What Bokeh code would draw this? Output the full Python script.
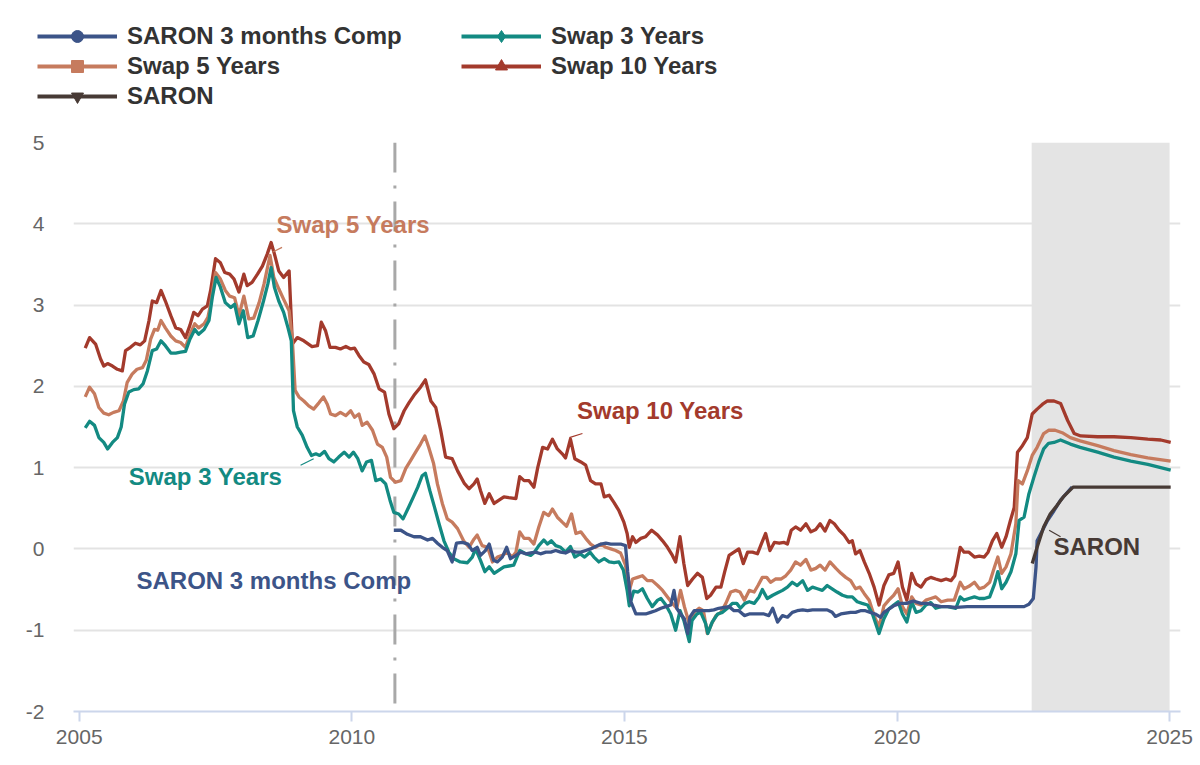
from bokeh.plotting import figure
from bokeh.models import Range1d, FixedTicker, Legend, LegendItem, ColumnDataSource
from bokeh.core.properties import value
from bokeh.embed import file_html
from bokeh.resources import INLINE

# ---------------- data (decimal years, percent) ----------------
swap10_t = [2005.11, 2005.19, 2005.30, 2005.39, 2005.45, 2005.52, 2005.61, 2005.70, 2005.79, 2005.85, 2005.94,
            2006.03, 2006.12, 2006.20, 2006.28, 2006.34, 2006.42, 2006.50, 2006.58, 2006.68, 2006.77, 2006.86, 2006.95,
            2007.03, 2007.10, 2007.18, 2007.26, 2007.35, 2007.41, 2007.50, 2007.59, 2007.67, 2007.76, 2007.84, 2007.93,
            2008.02, 2008.08, 2008.17, 2008.27, 2008.36, 2008.45, 2008.52, 2008.58, 2008.66, 2008.75, 2008.85, 2008.91,
            2009.00, 2009.12, 2009.27, 2009.37, 2009.44, 2009.52, 2009.60, 2009.70, 2009.79, 2009.89, 2009.98,
            2010.05, 2010.13, 2010.22, 2010.31, 2010.41, 2010.50, 2010.60, 2010.68, 2010.77, 2010.86, 2010.96,
            2011.05, 2011.14, 2011.26, 2011.35, 2011.45, 2011.54, 2011.63, 2011.72, 2011.84, 2011.94,
            2012.06, 2012.15, 2012.24, 2012.30, 2012.36, 2012.44, 2012.52, 2012.61, 2012.70, 2012.79, 2012.88,
            2013.01, 2013.08, 2013.16, 2013.25, 2013.34, 2013.41, 2013.50, 2013.59, 2013.68, 2013.77, 2013.86, 2013.92,
            2014.01, 2014.09, 2014.20, 2014.29, 2014.38, 2014.47, 2014.57, 2014.63, 2014.72, 2014.81, 2014.90, 2014.99,
            2015.05, 2015.09, 2015.15, 2015.21, 2015.30, 2015.39, 2015.50, 2015.61, 2015.70, 2015.79, 2015.88, 2015.94,
            2016.02, 2016.09, 2016.16, 2016.25, 2016.34, 2016.43, 2016.51, 2016.58, 2016.68, 2016.77, 2016.84, 2016.92,
            2017.01, 2017.10, 2017.18, 2017.26, 2017.35, 2017.44, 2017.51, 2017.59, 2017.67, 2017.75, 2017.84, 2017.93,
            2017.99, 2018.06, 2018.14, 2018.23, 2018.33, 2018.42, 2018.51, 2018.59, 2018.68, 2018.77, 2018.85, 2018.94,
            2019.03, 2019.12, 2019.18, 2019.24, 2019.32, 2019.40, 2019.49, 2019.58, 2019.67, 2019.76, 2019.85, 2019.94,
            2020.02, 2020.10, 2020.18, 2020.27, 2020.35, 2020.44, 2020.53, 2020.62, 2020.71, 2020.81, 2020.90, 2020.99,
            2021.06, 2021.16, 2021.23, 2021.32, 2021.42, 2021.51, 2021.60, 2021.67, 2021.75, 2021.83, 2021.92,
            2022.00, 2022.08, 2022.15, 2022.21, 2022.30, 2022.39, 2022.48, 2022.57, 2022.67, 2022.76, 2022.88,
            2023.00, 2023.13, 2023.25, 2023.37, 2023.68, 2023.98, 2024.29, 2024.60, 2024.84, 2025.02]
swap10_v = [2.47, 2.60, 2.52, 2.34, 2.25, 2.28, 2.25, 2.21, 2.19, 2.44, 2.48,
            2.53, 2.51, 2.56, 2.81, 3.05, 3.03, 3.18, 3.05, 2.87, 2.72, 2.70, 2.60,
            2.75, 2.91, 2.87, 2.95, 2.99, 3.18, 3.57, 3.52, 3.40, 3.38, 3.32, 3.16,
            3.38, 3.24, 3.28, 3.38, 3.48, 3.63, 3.77, 3.63, 3.42, 3.34, 3.42, 2.52,
            2.60, 2.56, 2.49, 2.50, 2.79, 2.68, 2.48, 2.48, 2.46, 2.49, 2.46,
            2.47, 2.38, 2.30, 2.27, 2.15, 1.97, 1.93, 1.66, 1.48, 1.54, 1.70,
            1.80, 1.89, 1.99, 2.08, 1.82, 1.74, 1.46, 1.13, 1.11, 0.96,
            0.81, 0.74, 0.80, 0.86, 0.72, 0.56, 0.68, 0.56, 0.60, 0.64, 0.63,
            0.62, 0.89, 0.84, 0.84, 0.76, 1.00, 1.25, 1.23, 1.35, 1.23, 1.17, 1.12,
            1.35, 1.11, 1.07, 1.03, 0.84, 0.80, 0.80, 0.64, 0.66, 0.57, 0.47, 0.33,
            0.19, 0.02, 0.15, 0.08, 0.13, 0.15, 0.23, 0.17, 0.10, 0.02, -0.08, -0.16,
            0.15, -0.18, -0.45, -0.37, -0.30, -0.35, -0.61, -0.57, -0.47, -0.47, -0.28, -0.08,
            -0.04, 0.00, -0.18, -0.04, -0.04, -0.06, 0.06, 0.19, -0.02, 0.08, 0.07, 0.08,
            0.06, 0.23, 0.27, 0.23, 0.31, 0.21, 0.24, 0.31, 0.22, 0.35, 0.31, 0.23,
            0.17, 0.08, 0.10, -0.06, -0.02, -0.16, -0.30, -0.47, -0.69, -0.45, -0.32, -0.30,
            -0.16, -0.47, -0.63, -0.30, -0.43, -0.47, -0.38, -0.35, -0.37, -0.39, -0.37, -0.39,
            -0.33, 0.02, -0.04, -0.04, -0.10, -0.09, -0.10, -0.04, 0.10, 0.19, 0.02,
            0.15, 0.35, 0.51, 1.19, 1.27, 1.37, 1.66, 1.72, 1.78, 1.82, 1.82,
            1.79, 1.58, 1.42, 1.39, 1.38, 1.38, 1.37, 1.35, 1.34, 1.31]

swap5_t = [2005.11, 2005.19, 2005.28, 2005.36, 2005.45, 2005.54, 2005.63, 2005.73, 2005.81, 2005.88, 2005.97,
           2006.06, 2006.16, 2006.23, 2006.31, 2006.38, 2006.44, 2006.50, 2006.58, 2006.68, 2006.77, 2006.86, 2006.95,
           2007.03, 2007.12, 2007.19, 2007.29, 2007.36, 2007.41, 2007.50, 2007.59, 2007.68, 2007.76, 2007.85, 2007.93,
           2008.02, 2008.11, 2008.20, 2008.30, 2008.39, 2008.50, 2008.57, 2008.66, 2008.75, 2008.85, 2008.91, 2008.96,
           2009.03, 2009.12, 2009.21, 2009.30, 2009.40, 2009.48, 2009.55, 2009.61, 2009.70, 2009.79, 2009.89, 2009.98,
           2010.05, 2010.13, 2010.19, 2010.28, 2010.38, 2010.47, 2010.56, 2010.64, 2010.71, 2010.80, 2010.90, 2010.99,
           2011.08, 2011.17, 2011.26, 2011.34, 2011.41, 2011.50, 2011.57, 2011.66, 2011.75, 2011.84, 2011.94,
           2012.05, 2012.15, 2012.24, 2012.30, 2012.39, 2012.49, 2012.58, 2012.67, 2012.76, 2012.85, 2012.94,
           2013.01, 2013.08, 2013.16, 2013.25, 2013.34, 2013.43, 2013.52, 2013.61, 2013.68, 2013.77, 2013.86, 2013.94,
           2014.03, 2014.11, 2014.20, 2014.29, 2014.38, 2014.47, 2014.57, 2014.66, 2014.75, 2014.84, 2014.93,
           2015.02, 2015.09, 2015.15, 2015.24, 2015.33, 2015.42, 2015.51, 2015.61, 2015.70, 2015.79, 2015.88, 2015.96,
           2016.03, 2016.10, 2016.19, 2016.28, 2016.37, 2016.45, 2016.52, 2016.60, 2016.68, 2016.77, 2016.86, 2016.95,
           2017.04, 2017.12, 2017.20, 2017.29, 2017.38, 2017.45, 2017.53, 2017.61, 2017.68, 2017.77, 2017.87, 2017.96,
           2018.05, 2018.14, 2018.23, 2018.33, 2018.42, 2018.51, 2018.59, 2018.68, 2018.77, 2018.88, 2018.97,
           2019.06, 2019.15, 2019.24, 2019.32, 2019.40, 2019.49, 2019.58, 2019.67, 2019.76, 2019.85, 2019.94,
           2020.02, 2020.10, 2020.18, 2020.27, 2020.35, 2020.44, 2020.53, 2020.62, 2020.71, 2020.81, 2020.93,
           2021.05, 2021.16, 2021.23, 2021.32, 2021.42, 2021.51, 2021.60, 2021.70, 2021.79, 2021.85, 2021.92,
           2022.00, 2022.09, 2022.18, 2022.22, 2022.30, 2022.39, 2022.48, 2022.57, 2022.69, 2022.78, 2022.90,
           2023.03, 2023.18, 2023.36, 2023.68, 2023.98, 2024.29, 2024.60, 2025.02]
swap5_v = [1.87, 1.99, 1.91, 1.74, 1.67, 1.65, 1.68, 1.70, 1.82, 2.05, 2.15,
           2.21, 2.23, 2.32, 2.58, 2.70, 2.69, 2.81, 2.72, 2.62, 2.56, 2.54, 2.48,
           2.64, 2.77, 2.72, 2.77, 2.85, 3.01, 3.40, 3.32, 3.18, 3.11, 3.09, 2.87,
           3.11, 2.83, 2.84, 3.03, 3.26, 3.61, 3.34, 3.20, 3.07, 2.93, 2.56, 1.95,
           1.87, 1.82, 1.76, 1.72, 1.80, 1.87, 1.78, 1.66, 1.64, 1.68, 1.64, 1.70,
           1.62, 1.66, 1.52, 1.56, 1.46, 1.29, 1.25, 1.13, 0.88, 0.82, 0.84, 0.99,
           1.09, 1.19, 1.29, 1.39, 1.25, 1.05, 0.80, 0.56, 0.37, 0.33, 0.25,
           0.10, 0.02, 0.12, 0.17, 0.04, 0.02, -0.16, -0.10, -0.08, -0.04, -0.10,
           -0.04, 0.21, 0.13, 0.13, 0.06, 0.27, 0.45, 0.41, 0.49, 0.39, 0.33, 0.28,
           0.43, 0.19, 0.21, 0.13, 0.06, 0.02, 0.06, 0.02, 0.00, -0.02, -0.05,
           -0.20, -0.51, -0.37, -0.35, -0.33, -0.39, -0.39, -0.45, -0.51, -0.59, -0.67, -0.73,
           -0.51, -0.71, -0.92, -0.78, -0.73, -0.76, -1.04, -0.92, -0.82, -0.78, -0.67, -0.53,
           -0.51, -0.53, -0.63, -0.51, -0.53, -0.45, -0.35, -0.35, -0.41, -0.37, -0.37, -0.33,
           -0.26, -0.16, -0.20, -0.13, -0.26, -0.24, -0.20, -0.26, -0.16, -0.24, -0.30,
           -0.35, -0.39, -0.49, -0.47, -0.55, -0.63, -0.82, -0.96, -0.70, -0.63, -0.57,
           -0.49, -0.71, -0.80, -0.59, -0.67, -0.69, -0.63, -0.61, -0.59, -0.65, -0.63,
           -0.63, -0.41, -0.49, -0.46, -0.41, -0.49, -0.47, -0.41, -0.22, -0.10, -0.30,
           -0.22, -0.06, 0.31, 0.84, 0.80, 0.96, 1.15, 1.25, 1.42, 1.46, 1.46,
           1.43, 1.37, 1.33, 1.27, 1.21, 1.16, 1.12, 1.08]

swap3_t = [2005.11, 2005.19, 2005.28, 2005.36, 2005.45, 2005.52, 2005.61, 2005.70, 2005.77, 2005.83, 2005.91,
           2006.00, 2006.09, 2006.17, 2006.25, 2006.34, 2006.42, 2006.50, 2006.58, 2006.68, 2006.77, 2006.86, 2006.95,
           2007.03, 2007.12, 2007.19, 2007.29, 2007.38, 2007.44, 2007.51, 2007.59, 2007.68, 2007.78, 2007.85, 2007.93,
           2008.01, 2008.09, 2008.19, 2008.28, 2008.38, 2008.46, 2008.52, 2008.58, 2008.66, 2008.75, 2008.83, 2008.89,
           2008.93, 2009.00, 2009.09, 2009.18, 2009.26, 2009.34, 2009.41, 2009.50, 2009.58, 2009.67, 2009.76, 2009.86,
           2009.95, 2010.03, 2010.11, 2010.19, 2010.27, 2010.36, 2010.44, 2010.53, 2010.62, 2010.70, 2010.77, 2010.86,
           2010.94, 2011.04, 2011.13, 2011.21, 2011.29, 2011.35, 2011.43, 2011.51, 2011.60, 2011.69, 2011.78, 2011.87,
           2011.99, 2012.12, 2012.21, 2012.27, 2012.36, 2012.44, 2012.52, 2012.61, 2012.70, 2012.79, 2012.88, 2012.97,
           2013.08, 2013.19, 2013.28, 2013.35, 2013.43, 2013.52, 2013.59, 2013.66, 2013.74, 2013.83, 2013.92,
           2014.01, 2014.09, 2014.19, 2014.27, 2014.37, 2014.44, 2014.53, 2014.63, 2014.72, 2014.81, 2014.90, 2014.98,
           2015.05, 2015.09, 2015.17, 2015.25, 2015.33, 2015.42, 2015.51, 2015.61, 2015.67, 2015.76, 2015.85, 2015.94,
           2016.02, 2016.09, 2016.19, 2016.24, 2016.33, 2016.40, 2016.49, 2016.53, 2016.61, 2016.71, 2016.80, 2016.89,
           2016.98, 2017.06, 2017.13, 2017.21, 2017.29, 2017.38, 2017.47, 2017.53, 2017.62, 2017.72, 2017.81, 2017.90,
           2017.99, 2018.08, 2018.17, 2018.27, 2018.36, 2018.45, 2018.54, 2018.63, 2018.72, 2018.81, 2018.90,
           2019.00, 2019.09, 2019.18, 2019.27, 2019.36, 2019.46, 2019.55, 2019.67, 2019.76, 2019.85, 2019.94,
           2020.02, 2020.10, 2020.18, 2020.27, 2020.35, 2020.44, 2020.53, 2020.62, 2020.71, 2020.81, 2020.93,
           2021.08, 2021.16, 2021.23, 2021.32, 2021.42, 2021.51, 2021.60, 2021.70, 2021.79, 2021.85, 2021.92,
           2022.00, 2022.09, 2022.18, 2022.24, 2022.33, 2022.42, 2022.51, 2022.60, 2022.69, 2022.78, 2022.88,
           2023.00, 2023.18, 2023.36, 2023.68, 2023.98, 2024.29, 2024.60, 2025.02]
swap3_v = [1.49, 1.57, 1.52, 1.37, 1.31, 1.23, 1.31, 1.37, 1.50, 1.78, 1.93,
           1.96, 1.97, 2.03, 2.19, 2.44, 2.46, 2.56, 2.50, 2.41, 2.41, 2.42, 2.43,
           2.58, 2.70, 2.64, 2.70, 2.81, 3.09, 3.34, 3.22, 3.03, 2.97, 3.01, 2.77,
           2.93, 2.60, 2.62, 2.81, 3.05, 3.26, 3.46, 3.22, 3.05, 2.91, 2.72, 2.56,
           1.70, 1.50, 1.40, 1.25, 1.15, 1.17, 1.15, 1.20, 1.11, 1.07, 1.13, 1.19,
           1.13, 1.19, 1.11, 0.96, 1.07, 1.09, 0.84, 0.86, 0.80, 0.60, 0.45, 0.43,
           0.37, 0.51, 0.64, 0.76, 0.90, 0.93, 0.72, 0.53, 0.31, 0.10, -0.04, -0.12,
           -0.16, -0.17, -0.10, 0.00, -0.14, -0.28, -0.22, -0.30, -0.26, -0.22, -0.21, -0.20,
           -0.02, -0.06, -0.08, -0.04, 0.04, 0.11, 0.06, 0.10, 0.04, 0.02, -0.04,
           0.03, -0.10, -0.06, -0.10, -0.04, -0.10, -0.16, -0.12, -0.16, -0.17, -0.16, -0.26,
           -0.51, -0.70, -0.52, -0.53, -0.49, -0.61, -0.71, -0.63, -0.61, -0.69, -0.80, -1.00,
           -0.76, -0.88, -1.14, -0.88, -0.80, -0.78, -0.92, -1.04, -0.90, -0.80, -0.78, -0.73,
           -0.67, -0.67, -0.73, -0.67, -0.65, -0.67, -0.59, -0.50, -0.61, -0.57, -0.54, -0.51,
           -0.47, -0.41, -0.45, -0.39, -0.51, -0.47, -0.49, -0.51, -0.45, -0.49, -0.53,
           -0.57, -0.59, -0.59, -0.65, -0.67, -0.69, -0.80, -1.04, -0.86, -0.74, -0.69,
           -0.65, -0.80, -0.90, -0.65, -0.78, -0.76, -0.69, -0.66, -0.73, -0.71, -0.71,
           -0.73, -0.59, -0.63, -0.61, -0.59, -0.61, -0.61, -0.59, -0.43, -0.28, -0.49,
           -0.41, -0.28, -0.06, 0.35, 0.39, 0.68, 0.88, 1.07, 1.23, 1.30, 1.31,
           1.34, 1.29, 1.25, 1.19, 1.13, 1.08, 1.04, 0.97]

saron3m_t = [2010.77, 2010.90, 2011.02, 2011.14, 2011.26, 2011.39, 2011.48, 2011.57, 2011.66, 2011.75, 2011.84,
             2011.92, 2012.03, 2012.13, 2012.21, 2012.30, 2012.36, 2012.45, 2012.52, 2012.60, 2012.67, 2012.76,
             2012.84, 2012.91, 2013.01, 2013.10, 2013.19, 2013.28, 2013.37, 2013.46, 2013.56, 2013.65, 2013.74,
             2013.83, 2013.92, 2014.01, 2014.11, 2014.20, 2014.29, 2014.38, 2014.47, 2014.57, 2014.66, 2014.75,
             2014.84, 2014.93, 2015.02, 2015.06, 2015.12, 2015.21, 2015.30, 2015.39, 2015.48, 2015.57, 2015.67,
             2015.76, 2015.85, 2015.91, 2015.96, 2016.03, 2016.10, 2016.16, 2016.20, 2016.28, 2016.37, 2016.46,
             2016.55, 2016.64, 2016.73, 2016.83, 2016.92, 2017.01, 2017.10, 2017.20, 2017.29, 2017.38, 2017.47,
             2017.56, 2017.65, 2017.72, 2017.81, 2017.90, 2017.99, 2018.08, 2018.17, 2018.27, 2018.36, 2018.45,
             2018.54, 2018.63, 2018.72, 2018.81, 2018.87, 2018.97, 2019.06, 2019.15, 2019.24, 2019.33, 2019.42,
             2019.51, 2019.60, 2019.70, 2019.76, 2019.85, 2019.94, 2020.06, 2020.18, 2020.30, 2020.44, 2020.55,
             2020.67, 2020.81, 2020.93, 2021.08, 2021.29, 2021.53, 2021.85, 2022.15, 2022.33, 2022.42, 2022.50,
             2022.55, 2022.57, 2022.67, 2022.76, 2022.88, 2023.00, 2023.13, 2023.21]
saron3m_v = [0.23, 0.23, 0.18, 0.15, 0.15, 0.11, 0.13, 0.07, 0.02, -0.02, -0.16,
             0.07, 0.08, 0.06, -0.02, 0.02, -0.08, -0.02, 0.06, -0.14, -0.16, -0.10,
             0.02, -0.12, -0.08, -0.04, -0.06, -0.05, -0.04, -0.06, -0.04, -0.04, -0.02,
             -0.04, -0.05, -0.02, -0.04, -0.04, -0.02, 0.00, 0.03, 0.06, 0.07, 0.06,
             0.06, 0.06, 0.04, -0.28, -0.65, -0.80, -0.80, -0.80, -0.78, -0.76, -0.73,
             -0.71, -0.69, -0.51, -0.73, -0.80, -0.86, -1.04, -0.84, -0.76, -0.76, -0.76,
             -0.76, -0.75, -0.73, -0.72, -0.71, -0.76, -0.76, -0.82, -0.80, -0.80, -0.80,
             -0.80, -0.82, -0.73, -0.90, -0.82, -0.84, -0.78, -0.76, -0.75, -0.76, -0.75,
             -0.75, -0.75, -0.75, -0.78, -0.83, -0.80, -0.79, -0.78, -0.78, -0.76, -0.76,
             -0.78, -0.80, -0.84, -0.78, -0.74, -0.70, -0.67, -0.67, -0.64, -0.67, -0.67,
             -0.69, -0.71, -0.71, -0.72, -0.71, -0.71, -0.71, -0.71, -0.71, -0.68, -0.61,
             -0.22, 0.10, 0.23, 0.35, 0.47, 0.60, 0.70, 0.76]

saron_t = [2022.48, 2022.57, 2022.69, 2022.81, 2022.93, 2023.05, 2023.23, 2023.60, 2024.00, 2024.50, 2025.02]
saron_v = [-0.18, 0.02, 0.27, 0.43, 0.53, 0.64, 0.76, 0.76, 0.76, 0.76, 0.76]

x_ticks = [2005, 2010, 2015, 2020, 2025]
y_ticks = [-2, -1, 0, 1, 2, 3, 4, 5]
y_tick_text = {-2: "-2", -1: "-1"}

event_date = 2010.79                      # vertical dash-dot marker
band_start, band_end = 2022.47, 2025.0    # shaded period

# label annotations: text, anchor x, anchor y, leader line (x0, y0, x1, y1)
labels = ["Swap 5 Years", "Swap 10 Years", "Swap 3 Years", "SARON 3 months Comp", "SARON"]
label_x = [2008.62, 2014.13, 2005.91, 2006.05, 2022.87]
label_y = [3.99, 1.70, 0.89, -0.39, 0.03]
leader_x0 = [2008.54, 2013.99, 2009.06, None, 2022.79]
leader_y0 = [3.65, 1.37, 1.03, None, 0.23]
leader_x1 = [2008.72, 2014.23, 2009.30, None, 2023.00]
leader_y1 = [3.71, 1.42, 1.11, None, 0.15]

legend_col1 = ["SARON 3 months Comp", "Swap 5 Years", "SARON"]
legend_col2 = ["Swap 3 Years", "Swap 10 Years"]

# ---------------- styling ----------------
C_SARON3M = "#3c5488"
C_SWAP3 = "#138a82"
C_SWAP5 = "#c67b5e"
C_SWAP10 = "#a33a2c"
C_SARON = "#473a35"
label_colors = [C_SWAP5, C_SWAP10, C_SWAP3, C_SARON3M, C_SARON]
FONT = "Liberation Sans"
NAN = float("nan")
LW = 3.3

series = [
    ("SARON 3 months Comp", saron3m_t, saron3m_v, C_SARON3M, "circle"),
    ("Swap 3 Years", swap3_t, swap3_v, C_SWAP3, "diamond"),
    ("Swap 5 Years", swap5_t, swap5_v, C_SWAP5, "square"),
    ("Swap 10 Years", swap10_t, swap10_v, C_SWAP10, "triangle"),
    ("SARON", saron_t, saron_v, C_SARON, "inverted_triangle"),
]

W, H = 1200, 765
LEG_H = 130

# ---------------- legend strip (separate root) ----------------
lf = figure(width=W, height=LEG_H, output_backend="svg", toolbar_location=None,
            x_axis_type=None, y_axis_type=None, x_range=Range1d(0, 1), y_range=Range1d(0, 1),
            min_border_left=0, min_border_right=0, min_border_top=0, min_border_bottom=0)
lf.outline_line_color = None
lf.xgrid.grid_line_color = None
lf.ygrid.grid_line_color = None
items = {}
for name, t, v, col, mk in series:
    r = lf.line(x=[NAN, NAN], y=[NAN, NAN], line_color=col, line_width=4)
    m = lf.scatter(x=[NAN], y=[NAN], marker=mk, fill_color=col, line_color=col)
    items[name] = LegendItem(label=name, renderers=[r, m])

def make_legend(names, loc):
    return Legend(items=[items[n] for n in names], location=loc,
                  label_text_font=FONT, label_text_font_style="bold",
                  label_text_font_size="24px", label_text_color="#333333",
                  glyph_width=80, glyph_height=30, label_height=30, label_standoff=10,
                  spacing=0, padding=0, margin=0, border_line_color=None,
                  background_fill_alpha=0)

lf.add_layout(make_legend(legend_col1, (37, LEG_H - 111)))
lf.add_layout(make_legend(legend_col2, (461, LEG_H - 81)))

# ---------------- main chart ----------------
p = figure(width=W, height=H - LEG_H, output_backend="svg", toolbar_location=None,
           x_range=Range1d(2004.895, 2025.2), y_range=Range1d(-2, 5),
           min_border_left=73, min_border_right=20, min_border_top=142 - LEG_H, min_border_bottom=54)
p.outline_line_color = None

p.xgrid.grid_line_color = None
p.ygrid.grid_line_color = "#e3e3e3"
p.ygrid.grid_line_width = 2

p.xaxis.ticker = FixedTicker(ticks=x_ticks)
p.yaxis.ticker = FixedTicker(ticks=y_ticks)
p.yaxis.major_label_overrides = y_tick_text
p.xaxis.axis_line_color = "#ccd6eb"
p.xaxis.axis_line_width = 2
p.xaxis.major_tick_line_color = "#ccd6eb"
p.xaxis.major_tick_line_width = 2
p.xaxis.major_tick_out = 10
p.xaxis.major_tick_in = 0
p.xaxis.minor_tick_line_color = None
p.xaxis.major_label_standoff = 8
p.yaxis.axis_line_color = None
p.yaxis.major_tick_line_color = None
p.yaxis.minor_tick_line_color = None
p.yaxis.major_tick_out = 0
p.yaxis.major_tick_in = 0
p.yaxis.major_label_standoff = 29
for ax in (p.xaxis, p.yaxis):
    ax.major_label_text_font = FONT
    ax.major_label_text_font_size = "21px"
    ax.major_label_text_color = "#666666"

# shaded band
p.quad(left=[band_start], right=[band_end], bottom=[y_ticks[0]], top=[y_ticks[-1]],
       fill_color="#e4e4e4", line_color=None)

# vertical dash-dot marker
p.line(x=[event_date, event_date], y=[y_ticks[-1], y_ticks[0]], line_color="#a8a8a8",
       line_width=3, line_dash="30 13 3 13")

for name, t, v, col, mk in [series[3], series[2], series[1], series[0], series[4]]:
    p.line(x=t, y=v, line_color=col, line_width=LW, line_join="round")

# leader lines
lx0, ly0, lx1, ly1, lcol = [], [], [], [], []
for i in range(len(labels)):
    if leader_x0[i] is not None:
        lx0.append(leader_x0[i]); ly0.append(leader_y0[i])
        lx1.append(leader_x1[i]); ly1.append(leader_y1[i])
        lcol.append(label_colors[i])
p.segment(x0=lx0, y0=ly0, x1=lx1, y1=ly1, line_color=lcol, line_width=1.2)

src = ColumnDataSource(dict(x=label_x, y=label_y, text=labels, color=label_colors))
p.text(x="x", y="y", text="text", source=src, text_color="color",
       text_font=value(FONT), text_font_style="bold", text_font_size="24px",
       text_align="left", text_baseline="middle")

open("out.html", "w").write(file_html([lf, p], INLINE))
